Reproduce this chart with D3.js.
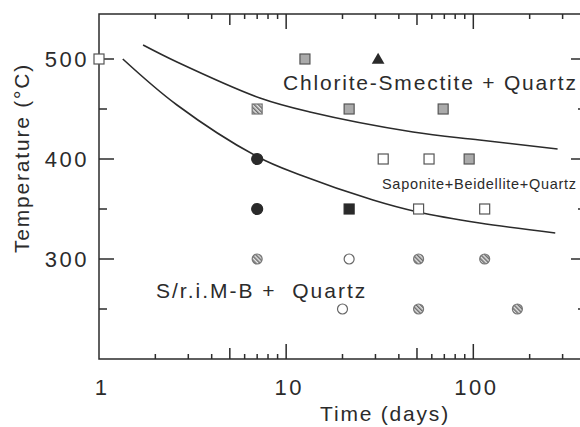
<!DOCTYPE html>
<html>
<head>
<meta charset="utf-8">
<script src="https://cdn.jsdelivr.net/npm/d3@7"></script>
<style>
  body { margin: 0; background: #fff; }
  text { font-family: "Liberation Sans", Arial, sans-serif; fill: #2b2b2b; }
</style>
</head>
<body>
<script>
// symbol groups: time (days) and temperature (C)
var open_sq_days = [1, 33, 58, 51, 115];
var open_sq_temp = [500, 400, 400, 350, 350];
var gray_sq_days = [12.6, 21.7, 69, 95];
var gray_sq_temp = [500, 450, 450, 400];
var hatch_sq_days = [7];
var hatch_sq_temp = [450];
var filled_sq_days = [21.7];
var filled_sq_temp = [350];
var filled_circ_days = [7, 7];
var filled_circ_temp = [400, 350];
var open_circ_days = [21.7, 20];
var open_circ_temp = [300, 250];
var hatch_circ_days = [7, 51, 115, 51, 172];
var hatch_circ_temp = [300, 300, 300, 250, 250];
var tri_days = [31];
var tri_temp = [500];

// boundary curves
var upper_days = [1.72, 2.61, 7.24, 13.4, 47.6, 108, 282];
var upper_temp = [514, 497, 461, 447, 427, 419, 410];
var lower_days = [1.34, 2.61, 7.07, 11.9, 29.1, 50.6, 108, 274];
var lower_temp = [500, 454, 402, 384, 359, 347, 336, 326];

var x_ticks_labels = [1, 10, 100];
var y_ticks_labels = [300, 400, 500];

var width = 580, height = 427;
var svg = d3.select('body').append('svg').attr('width', width).attr('height', height);

var x_scale = d3.scaleLog().domain([1, 400]).range([99, 586]);
var y_scale = d3.scaleLinear().domain([200, 545]).range([359, 14]);
var x0 = x_scale.range()[0], x1 = x_scale.range()[1];
var yb = y_scale.range()[0], yt = y_scale.range()[1];

var ink = '#2b2b2b';

// hatch patterns
var defs = svg.append('defs');
var pat = defs.append('pattern').attr('id', 'hatch').attr('patternUnits', 'userSpaceOnUse')
  .attr('width', 3).attr('height', 3).attr('patternTransform', 'rotate(-45)');
pat.append('rect').attr('width', 3).attr('height', 3).attr('fill', '#e6e6e6');
pat.append('rect').attr('width', 1.5).attr('height', 3).attr('fill', '#6a6a6a');

// frame
var frame = svg.append('g').attr('stroke', ink).attr('stroke-width', 1.5).attr('fill', 'none');
frame.append('path').attr('d', 'M' + x0 + ',' + yt + 'V' + yb + 'H' + x1 + 'V' + yt + 'Z');

// x ticks (top and bottom, pointing inward)
function tick_len_x(v) {
  var m = Math.round(v / Math.pow(10, Math.floor(Math.log10(v) + 1e-9)));
  if (m == 1) return 15;
  if (m == 5) return 11;
  return 5;
}
var xt = x_scale.ticks().filter(function(v) { return v > 1; });
frame.selectAll('.xb').data(xt).enter().append('line')
  .attr('x1', d => x_scale(d)).attr('x2', d => x_scale(d))
  .attr('y1', yb).attr('y2', d => yb - tick_len_x(d));
frame.selectAll('.xt').data(xt).enter().append('line')
  .attr('x1', d => x_scale(d)).attr('x2', d => x_scale(d))
  .attr('y1', yt).attr('y2', d => yt + tick_len_x(d));

// y ticks (left and right)
var yt_vals = d3.range(250, 545, 50);
function tick_len_y(v) { return v % 100 == 0 ? 15 : 8; }
frame.selectAll('.yl').data(yt_vals).enter().append('line')
  .attr('x1', x0).attr('x2', d => x0 + tick_len_y(d))
  .attr('y1', d => y_scale(d)).attr('y2', d => y_scale(d));
frame.selectAll('.yr').data(yt_vals).enter().append('line')
  .attr('x1', x1).attr('x2', d => x1 - tick_len_y(d))
  .attr('y1', d => y_scale(d)).attr('y2', d => y_scale(d));

// tick labels
svg.selectAll('.ylab').data(y_ticks_labels).enter().append('text')
  .attr('x', 89).attr('y', d => y_scale(d) + 8)
  .attr('text-anchor', 'end').style('font-size', '22px').style('letter-spacing', '2.5px')
  .text(d => d);
svg.selectAll('.xlab').data(x_ticks_labels).enter().append('text')
  .attr('x', d => x_scale(d) + 3).attr('y', 395)
  .attr('text-anchor', 'middle').style('font-size', '22px').style('letter-spacing', '2.5px')
  .text(d => d);

// axis titles
svg.append('text').attr('x', 385).attr('y', 421).attr('text-anchor', 'middle')
  .style('font-size', '21px').style('letter-spacing', '1.8px').text('Time (days)');
svg.append('text').attr('transform', 'translate(29,158) rotate(-90)').attr('text-anchor', 'middle')
  .style('font-size', '21px').style('letter-spacing', '1.8px').text('Temperature (\u00B0C)');

// curves
var line = d3.line().x(d => x_scale(d[0])).y(d => y_scale(d[1])).curve(d3.curveCatmullRom);
svg.append('path').datum(d3.zip(upper_days, upper_temp)).attr('d', line)
  .attr('fill', 'none').attr('stroke', ink).attr('stroke-width', 1.6);
svg.append('path').datum(d3.zip(lower_days, lower_temp)).attr('d', line)
  .attr('fill', 'none').attr('stroke', ink).attr('stroke-width', 1.6);

// region labels
svg.append('text').attr('x', 283).attr('y', 90).style('font-size', '21px').style('letter-spacing', '1.8px')
  .text('Chlorite-Smectite + Quartz');
svg.append('text').attr('x', 382).attr('y', 189).style('font-size', '14.5px').style('letter-spacing', '0.7px')
  .text('Saponite+Beidellite+Quartz');
svg.append('text').attr('x', 156).attr('y', 298).style('font-size', '21px').style('letter-spacing', '2px')
  .style('white-space', 'pre').text('S/r.i.M-B +  Quartz');

// symbols
function squares(days, temp, fill, stroke) {
  svg.append('g').selectAll('rect').data(d3.zip(days, temp)).enter().append('rect')
    .attr('x', d => x_scale(d[0]) - 5).attr('y', d => y_scale(d[1]) - 5)
    .attr('width', 10).attr('height', 10)
    .attr('fill', fill).attr('stroke', stroke).attr('stroke-width', 1.2);
}
function circles(days, temp, r, fill, stroke) {
  svg.append('g').selectAll('circle').data(d3.zip(days, temp)).enter().append('circle')
    .attr('cx', d => x_scale(d[0])).attr('cy', d => y_scale(d[1])).attr('r', r)
    .attr('fill', fill).attr('stroke', stroke).attr('stroke-width', 1.2);
}
squares(open_sq_days, open_sq_temp, '#fff', '#555');
squares(gray_sq_days, gray_sq_temp, '#aaa', '#555');
squares(hatch_sq_days, hatch_sq_temp, 'url(#hatch)', '#777');
squares(filled_sq_days, filled_sq_temp, '#2a2a2a', '#2a2a2a');
circles(filled_circ_days, filled_circ_temp, 5.5, '#2a2a2a', '#2a2a2a');
circles(open_circ_days, open_circ_temp, 5, '#fff', '#666');
circles(hatch_circ_days, hatch_circ_temp, 5, 'url(#hatch)', '#777');
svg.append('g').selectAll('path').data(d3.zip(tri_days, tri_temp)).enter().append('path')
  .attr('d', d3.symbol().type(d3.symbolTriangle).size(70))
  .attr('transform', d => 'translate(' + x_scale(d[0]) + ',' + (y_scale(d[1]) + 1) + ')')
  .attr('fill', '#2a2a2a');
</script>
</body>
</html>
